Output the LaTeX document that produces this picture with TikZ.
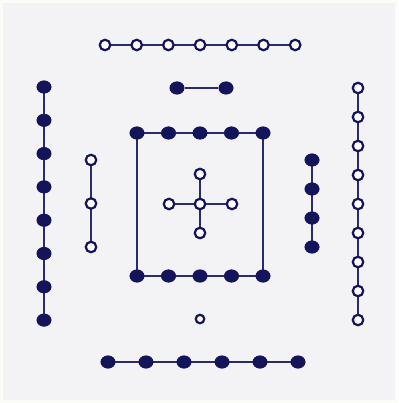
\documentclass[tikz,border=0pt]{standalone}
\usetikzlibrary{calc}
\definecolor{bg}{HTML}{F3F3F5}
\definecolor{rim}{HTML}{FBFBF8}
\definecolor{ink}{HTML}{14145A}
\definecolor{wire}{HTML}{2B2B6B}
\tikzset{
  full/.style={circle,fill=ink,draw=ink,line width=0.6pt,minimum width=12.5pt,inner sep=0pt,xscale=1.15},
  hollow/.style={circle,fill=white,draw=ink,line width=2.2pt,minimum width=10.5pt,inner sep=0pt},
  tiny/.style={circle,fill=white,draw=ink,line width=2.2pt,minimum width=8.5pt,inner sep=0pt},
  wire/.style={draw=wire,line width=1.8pt}
}
\begin{document}
\begin{tikzpicture}[x=1pt,y=-1pt]
\fill[bg] (0,0) rectangle (398,403);
\draw[rim,line width=3pt] (1.5,1.5) rectangle (396.5,401.5);
\useasboundingbox (0,0) rectangle (398,403);
% top hollow row
\foreach \i in {0,...,6} {\coordinate (t\i) at ({105+31.7*\i},45);}
\draw[wire] (t0) -- (t6);
\foreach \i in {0,...,6} {\node[hollow] (T\i) at (t\i) {};}
% short filled pair
\node[full] (p0) at (177,88) {};
\node[full] (p1) at (226,88) {};
\draw[wire] (p0) -- (p1);
% left filled column
\foreach \i in {0,...,7} {\coordinate (l\i) at (44,{87+33.3*\i});}
\draw[wire] (l0) -- (l7);
\foreach \i in {0,...,7} {\node[full] (L\i) at (l\i) {};}
% left hollow column
\foreach \i in {0,...,2} {\coordinate (m\i) at (91,{160+43.5*\i});}
\draw[wire] (m0) -- (m2);
\foreach \i in {0,...,2} {\node[hollow] (M\i) at (m\i) {};}
% right filled column
\foreach \i in {0,...,3} {\coordinate (r\i) at (312,{160+29*\i});}
\draw[wire] (r0) -- (r3);
\foreach \i in {0,...,3} {\node[full] (R\i) at (r\i) {};}
% right hollow column
\foreach \i in {0,...,8} {\coordinate (h\i) at (358,{88+29*\i});}
\draw[wire] (h0) -- (h8);
\foreach \i in {0,...,8} {\node[hollow] (H\i) at (h\i) {};}
% square
\foreach \i in {0,...,4} {\coordinate (a\i) at ({137+31.5*\i},133); \coordinate (b\i) at ({137+31.5*\i},276);}
\draw[wire] (a0) -- (a4) -- (b4) -- (b0) -- cycle;
\foreach \i in {0,...,4} {\node[full] (A\i) at (a\i) {}; \node[full] (B\i) at (b\i) {};}
% cross
\coordinate (cc) at (200,204);
\coordinate (cu) at (200,174);
\coordinate (cd) at (200,233);
\coordinate (cl) at (169,204);
\coordinate (cr) at (232,204);
\draw[wire] (cu) -- (cd) (cl) -- (cr);
\node[hollow] (C) at (cc) {};
\node[hollow] (CU) at (cu) {};
\node[hollow] (CD) at (cd) {};
\node[hollow] (CL) at (cl) {};
\node[hollow] (CR) at (cr) {};
% lone circle
\node[tiny] (S) at (200,319) {};
% bottom filled row
\foreach \i in {0,...,5} {\coordinate (d\i) at ({108+38*\i},362);}
\draw[wire] (d0) -- (d5);
\foreach \i in {0,...,5} {\node[full] (D\i) at (d\i) {};}
\end{tikzpicture}
\end{document}
